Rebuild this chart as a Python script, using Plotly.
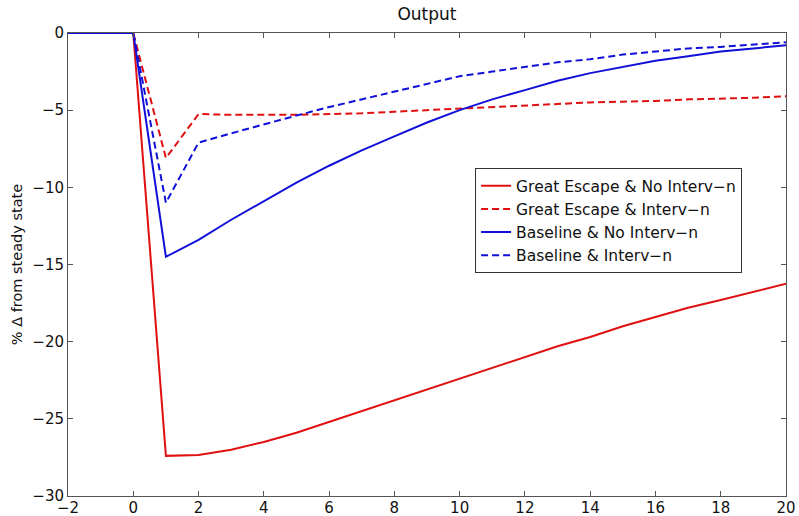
import plotly.graph_objects as go

x = [-2, -1, 0, 1, 2, 3, 4, 5, 6, 7, 8, 9, 10, 11, 12, 13, 14, 15, 16, 17, 18, 19, 20]
ge_no = [0, 0, 0, -27.4, -27.35, -27.0, -26.5, -25.9, -25.2, -24.5, -23.8, -23.1, -22.4,
         -21.7, -21.0, -20.3, -19.7, -19.0, -18.4, -17.8, -17.3, -16.8, -16.25]
ge_int = [0, 0, 0, -8.1, -5.25, -5.3, -5.3, -5.3, -5.25, -5.2, -5.1, -5.0, -4.9,
          -4.8, -4.7, -4.6, -4.5, -4.45, -4.4, -4.3, -4.25, -4.2, -4.1]
bl_no = [0, 0, 0, -14.5, -13.4, -12.1, -10.9, -9.7, -8.6, -7.6, -6.7, -5.8, -5.0,
         -4.3, -3.7, -3.1, -2.6, -2.2, -1.8, -1.5, -1.2, -1.0, -0.8]
bl_int = [0, 0, 0, -11.0, -7.1, -6.5, -5.9, -5.35, -4.8, -4.3, -3.8, -3.3, -2.8,
          -2.5, -2.2, -1.9, -1.7, -1.4, -1.2, -1.0, -0.9, -0.75, -0.6]

names = ["Great Escape & No Interv\u2212n", "Great Escape & Interv\u2212n",
         "Baseline & No Interv\u2212n", "Baseline & Interv\u2212n"]
series = [ge_no, ge_int, bl_no, bl_int]
colors = ["#e01010", "#e01010", "#1010d8", "#1010d8"]
dashes = ["solid", "7px,4px", "solid", "7px,4px"]

fig = go.Figure()
for n, s, c, d in zip(names, series, colors, dashes):
    fig.add_trace(go.Scatter(x=x, y=s, mode="lines", name=n,
                             line=dict(color=c, width=2, dash=d)))

FONT = "DejaVu Sans, Liberation Sans, Arial, sans-serif"
axis_common = dict(showline=True, linecolor="#555", linewidth=1, mirror="ticks",
                   ticks="inside", ticklen=5, tickcolor="#555", showgrid=False,
                   zeroline=False, automargin=False,
                   tickfont=dict(size=15, color="#111", family=FONT))
fig.update_layout(
    width=799, height=516,
    margin=dict(l=68, r=13, t=33, b=20),
    paper_bgcolor="white", plot_bgcolor="white",
    font=dict(family=FONT, size=15, color="#111"),
    title=dict(text="Output", x=427 / 799, xanchor="center",
               y=1 - 14 / 516, yanchor="middle",
               font=dict(size=17), automargin=False),
    xaxis=dict(range=[-2, 20], tickvals=list(range(-2, 21, 2)),
               ticklabelstandoff=-2, **axis_common),
    yaxis=dict(range=[-30, 0], tickvals=list(range(-30, 1, 5)),
               title=dict(text="% \u0394 from steady state", standoff=6,
                          font=dict(size=14.5)),
               **axis_common),
    legend=dict(x=0.567, y=0.708, xanchor="left", yanchor="top",
                bordercolor="#333", borderwidth=1, bgcolor="white",
                font=dict(size=15.5), tracegroupgap=0, itemwidth=30),
    showlegend=True,
)
fig.write_html("out.html", config={"displayModeBar": False},
               post_script="document.body.style.margin='0';")
